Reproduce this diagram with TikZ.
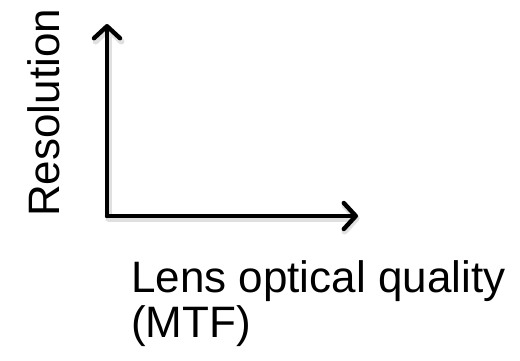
\documentclass[tikz,border=0pt]{standalone}
\usepackage{fontspec}
\setmainfont{Liberation Sans}
\usetikzlibrary{arrows.meta}
\begin{document}
\begin{tikzpicture}[x=1pt,y=-1pt,
  axis/.style={line width=4.4pt, line cap=round,
    -{Straight Barb[length=12pt,width=26pt,line width=4.4pt,round]}},
  shade/.style={axis, draw=black!12, line width=6pt,
    -{Straight Barb[length=12pt,width=26pt,line width=6pt,round]}},
  lbl/.style={font=\fontsize{44}{44}\selectfont, inner sep=0pt}]
\useasboundingbox (0,0) rectangle (520,360);
\coordinate (o) at (107,216);
\coordinate (ytip) at (107,24);
\coordinate (xtip) at (358,216);
\coordinate (os) at (108.5,218.5);
\coordinate (ytips) at (108.5,26.5);
\coordinate (xtips) at (359.5,218.5);
\draw[shade] (os) -- (ytips);
\draw[shade] (os) -- (xtips);
\draw[axis] (o) -- (ytip);
\draw[axis] (o) -- (xtip);
\node[lbl, anchor=base west, rotate=90] (res) at (59,217) {Resolution};
\node[lbl, anchor=base west] (xl1) at (131,292) {Lens optical quality};
\node[lbl, anchor=base west] (xl2) at (131,337) {(MTF)};
\end{tikzpicture}
\end{document}
